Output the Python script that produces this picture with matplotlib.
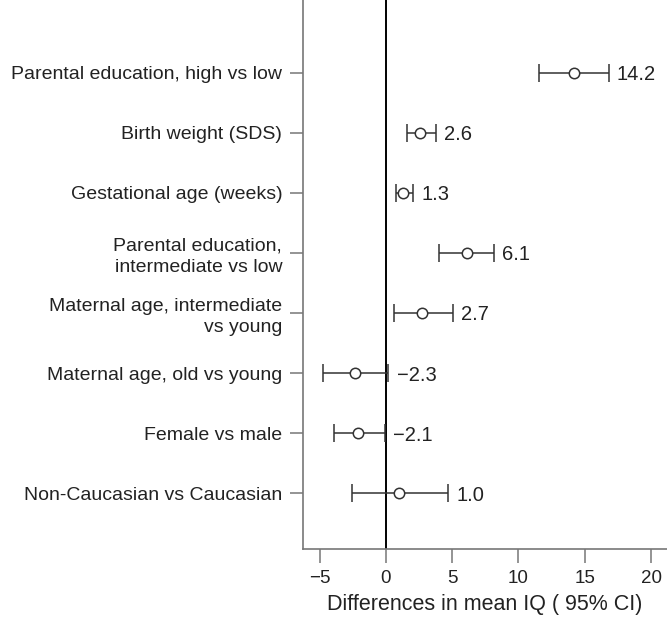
import matplotlib.pyplot as plt
import numpy as np

plt.rcParams['font.family'] = ['Liberation Sans', 'DejaVu Sans']

# === Data (top to bottom) ===
labels = [
    "Parental education, high vs low",
    "Birth weight (SDS)",
    "Gestational age (weeks)",
    "Parental education,\nintermediate vs low",
    "Maternal age, intermediate\nvs young",
    "Maternal age, old vs young",
    "Female vs male",
    "Non-Caucasian vs Caucasian",
]
estimates = [14.2, 2.6, 1.3, 6.1, 2.7, -2.3, -2.1, 1.0]
ci_low = [11.55, 1.6, 0.75, 4.0, 0.63, -4.72, -3.92, -2.56]
ci_high = [16.8, 3.77, 2.06, 8.13, 5.07, 0.18, -0.08, 4.72]
value_text = ["14.2", "2.6", "1.3", "6.1", "2.7", "\u22122.3", "\u22122.1", "1.0"]
xticks = [-5, 0, 5, 10, 15, 20]
xtick_labels = ["\u22125", "0", "5", "10", "15", "20"]

text_col = "#222222"
line_col = "#333333"
spine_col = "#777777"

fig = plt.figure(figsize=(6.67, 6.17), dpi=100)
ax = fig.add_axes([303 / 667, 1 - 549 / 617, 1 - 303 / 667, 549 / 617])

ypos = np.arange(len(labels))[::-1] + 1
est = np.array(estimates)
err = [est - np.array(ci_low), np.array(ci_high) - est]

ax.axvline(0, color="black", lw=1.4, zorder=1)
ax.errorbar(est, ypos, xerr=err, fmt="o", mfc="white", mec=line_col,
            ms=7.5, mew=1.1, ecolor=line_col, elinewidth=1.1,
            capsize=6.5, capthick=1.1, zorder=3)

for x, y, t in zip(ci_high, ypos, value_text):
    ax.annotate(t, (x, y), xytext=(6, 0), textcoords="offset points",
                ha="left", va="center_baseline", fontsize=14.5, color=text_col)

ax.set_xlim(-6.25, 21.2)
ax.set_ylim(0.07, 9.21)
ax.set_xticks(xticks)
ax.set_xticklabels(xtick_labels)
ax.set_yticks(ypos)
ax.set_yticklabels(labels, linespacing=1.3)

for lab in ax.get_yticklabels():
    lab.set_multialignment("right")

ax.spines["top"].set_visible(False)
ax.spines["right"].set_visible(False)
for s in ["left", "bottom"]:
    ax.spines[s].set_color(spine_col)
    ax.spines[s].set_linewidth(1.2)

ax.tick_params(axis="y", length=9.5, width=1.1, color=spine_col,
               labelsize=14, labelcolor=text_col, pad=5.5)
ax.tick_params(axis="x", length=10, width=1.1, color=spine_col,
               labelsize=13.5, labelcolor=text_col, pad=5)
ax.set_xlabel("Differences in mean IQ ( 95% CI)", fontsize=15.5,
              color=text_col, labelpad=5)

fig.savefig("out.png", dpi=100)
